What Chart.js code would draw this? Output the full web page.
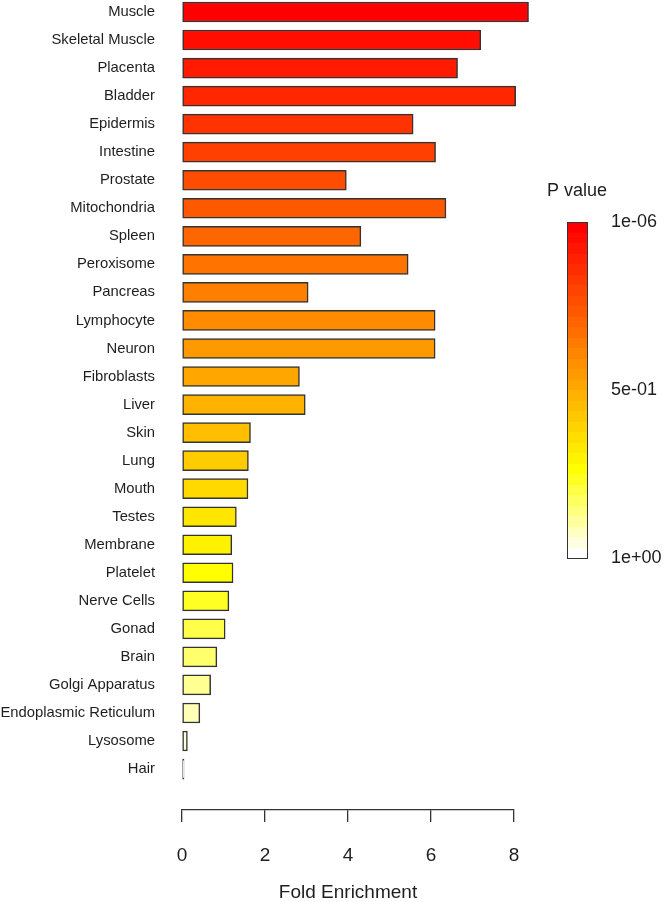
<!DOCTYPE html>
<html>
<head>
<meta charset="utf-8">
<script src="https://cdn.jsdelivr.net/npm/chart.js@4.4.0/dist/chart.umd.min.js"></script>
<style>
html, body { margin: 0; padding: 0; background: #fff; }
#wrap { width: 666px; height: 902px; }
</style>
</head>
<body>
<div id="wrap"><canvas id="chart" width="666" height="902"></canvas></div>
<script>
// data
const categories = ['Muscle', 'Skeletal Muscle', 'Placenta', 'Bladder', 'Epidermis', 'Intestine',
  'Prostate', 'Mitochondria', 'Spleen', 'Peroxisome', 'Pancreas', 'Lymphocyte', 'Neuron',
  'Fibroblasts', 'Liver', 'Skin', 'Lung', 'Mouth', 'Testes', 'Membrane', 'Platelet',
  'Nerve Cells', 'Gonad', 'Brain', 'Golgi Apparatus', 'Endoplasmic Reticulum', 'Lysosome', 'Hair'];
const foldEnrichment = [8.35, 7.20, 6.64, 8.04, 5.57, 6.11, 3.96, 6.36, 4.31, 5.45, 3.04, 6.10, 6.10,
  2.83, 2.97, 1.65, 1.60, 1.59, 1.31, 1.20, 1.23, 1.13, 1.04, 0.84, 0.69, 0.43, 0.13, 0.02];
const xTicks = [0, 2, 4, 6, 8];
const legendTitle = 'P value';
const legendLabels = ['1e-06', '5e-01', '1e+00'];

const FONT = "'Liberation Sans', Arial, sans-serif";
const TXT = '#1e1e1e';

// red -> yellow -> white
function heat(t) {
  const k = 20 / 27;
  if (t <= k) {
    const g = Math.round(255 * t / k);
    return 'rgb(255,' + g + ',0)';
  }
  const b = Math.round(255 * (t - k) / (1 - k));
  return 'rgb(255,255,' + b + ')';
}

const barColors = categories.map((c, i) => heat(i / (categories.length - 1)));

// — colour key on the right —
const pLegend = {
  id: 'pLegend',
  afterDraw(chart) {
    const ctx = chart.ctx;
    const x = 567, top = 222, w = 20, h = 336, n = 32;
    ctx.save();
    ctx.fillStyle = TXT;
    ctx.font = '18px ' + FONT;
    ctx.textAlign = 'center';
    ctx.textBaseline = 'middle';
    ctx.fillText(legendTitle, 577, 191);
    for (let i = 0; i < n; i++) {
      ctx.fillStyle = heat(i / (n - 1));
      const y0 = Math.round(top + i * h / n);
      const y1 = Math.round(top + (i + 1) * h / n);
      ctx.fillRect(x, y0, w, y1 - y0);
    }
    ctx.strokeStyle = '#333';
    ctx.lineWidth = 1;
    ctx.strokeRect(x + 0.5, top + 0.5, w, h);
    ctx.fillStyle = TXT;
    ctx.textAlign = 'left';
    legendLabels.forEach((lab, i) => {
      ctx.fillText(lab, 611, top + i * h / (legendLabels.length - 1));
    });
    ctx.restore();
  }
};

new Chart(document.getElementById('chart'), {
  type: 'bar',
  data: {
    datasets: [{
      data: foldEnrichment.map((v, i) => ({ x: v, y: i })),
      backgroundColor: barColors,
      borderColor: '#333',
      borderWidth: 1.5,
      borderSkipped: false,
      barThickness: 20,
      minBarLength: 2,
      clip: false
    }]
  },
  options: {
    indexAxis: 'y',
    responsive: false,
    animation: false,
    layout: { padding: { top: 0, right: 152, bottom: 0, left: 0 } },
    plugins: { legend: { display: false }, tooltip: { enabled: false } },
    scales: {
      y: {
        type: 'linear',
        reverse: true,
        offset: false,
        min: -0.428,
        max: 28.46,
        afterBuildTicks: s => { s.ticks = categories.map((c, i) => ({ value: i })); },
        afterFit: s => { s.width = 182; s.paddingTop = 0; s.paddingBottom = 0; },
        grid: { display: false, offset: false },
        border: { display: false },
        ticks: {
          autoSkip: false,
          padding: 19,
          color: TXT,
          font: { family: FONT, size: 14.8 },
          callback: v => categories[v]
        }
      },
      x: {
        type: 'linear',
        min: 0,
        max: 8,
        afterBuildTicks: s => { s.ticks = xTicks.map(v => ({ value: v })); },
        afterFit: s => { s.height = 92; s.paddingLeft = 0; s.paddingRight = 0; },
        grid: { drawOnChartArea: false, drawTicks: true, tickLength: 12, color: '#333', lineWidth: 1.3 },
        border: { display: true, color: '#333', width: 1.3 },
        ticks: { padding: 22, color: TXT, font: { family: FONT, size: 19 } },
        title: {
          display: true,
          text: 'Fold Enrichment',
          color: TXT,
          font: { family: FONT, size: 19, lineHeight: 1 },
          padding: { top: 0, bottom: 0 }
        }
      }
    }
  },
  plugins: [pLegend]
});
</script>
</body>
</html>
